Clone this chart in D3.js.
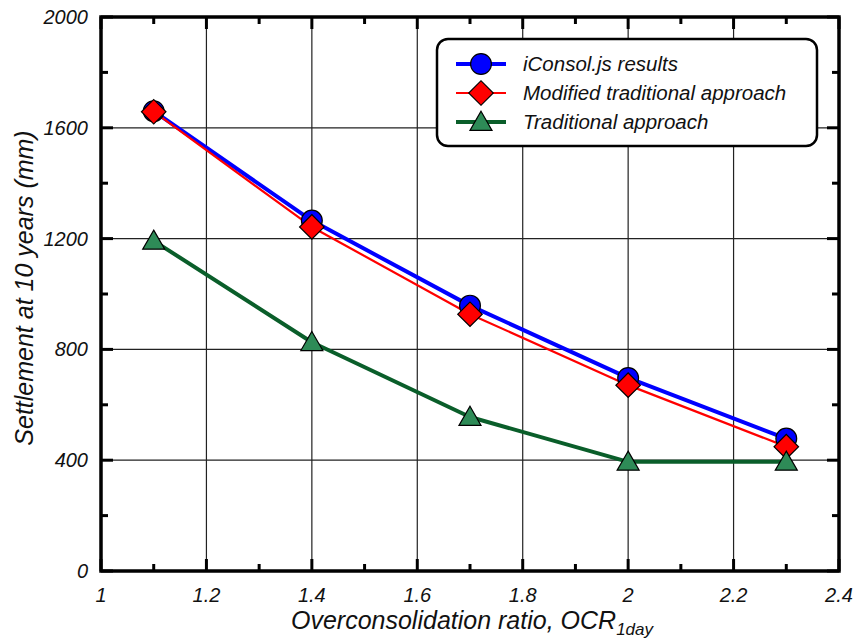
<!DOCTYPE html>
<html lang="en">
  <head>
    <meta charset="utf-8">
    <title>Settlement vs OCR</title>
    <style>
      body { margin: 0; background: #fff; }
      svg text { font-family: "Liberation Sans", Arial, sans-serif; font-style: italic; fill: #111; }
    </style>
  </head>
  <body>
    <svg width="857" height="639"></svg>
    <script src="https://d3js.org/d3.v7.min.js"></script>
    <script>
      // data
      var ocr = [1.1, 1.4, 1.7, 2.0, 2.3];
      var iconsol = [1660, 1265, 958, 697, 478];
      var modified = [1658, 1242, 927, 671, 449];
      var traditional = [1192, 826, 556, 394, 394];
      var xTicks = [1, 1.2, 1.4, 1.6, 1.8, 2, 2.2, 2.4];
      var yTicks = [0, 400, 800, 1200, 1600, 2000];

      var svg = d3.select("svg");
      var pL = 101, pR = 839, pT = 17, pB = 571;

      var x = d3.scaleLinear().domain([1, 2.4]).range([pL, pR]);
      var y = d3.scaleLinear().domain([0, 2000]).range([pB, pT]);

      // grid
      svg.append("g").selectAll("line")
        .data(xTicks.slice(1, -1))
        .enter().append("line")
        .attr("x1", d => x(d)).attr("x2", d => x(d))
        .attr("y1", pT).attr("y2", pB)
        .attr("stroke", "#222").attr("stroke-width", 1.2);
      svg.append("g").selectAll("line")
        .data(yTicks.slice(1, -1))
        .enter().append("line")
        .attr("y1", d => y(d)).attr("y2", d => y(d))
        .attr("x1", pL).attr("x2", pR)
        .attr("stroke", "#222").attr("stroke-width", 1.2);

      // inward ticks on all four sides
      var xMinor = d3.range(1.1, 2.4, 0.2);
      var yMinor = d3.range(200, 2000, 400);
      var tk = svg.append("g").attr("stroke", "#000").attr("stroke-width", 3);
      function xt(vals, len) {
        vals.forEach(function(v) {
          tk.append("line").attr("x1", x(v)).attr("x2", x(v)).attr("y1", pB).attr("y2", pB - len);
          tk.append("line").attr("x1", x(v)).attr("x2", x(v)).attr("y1", pT).attr("y2", pT + len);
        });
      }
      function yt(vals, len) {
        vals.forEach(function(v) {
          tk.append("line").attr("y1", y(v)).attr("y2", y(v)).attr("x1", pL).attr("x2", pL + len);
          tk.append("line").attr("y1", y(v)).attr("y2", y(v)).attr("x1", pR).attr("x2", pR - len);
        });
      }
      xt(xTicks, 12); xt(xMinor, 7);
      yt(yTicks, 12); yt(yMinor, 7);

      svg.append("rect")
        .attr("x", pL).attr("y", pT)
        .attr("width", pR - pL).attr("height", pB - pT)
        .attr("fill", "none").attr("stroke", "#000").attr("stroke-width", 3.5);

      // tick labels
      svg.append("g").selectAll("text")
        .data(xTicks).enter().append("text")
        .attr("x", d => x(d)).attr("y", 602)
        .attr("text-anchor", "middle").attr("font-size", 20)
        .text(d => d3.format("~g")(d));
      svg.append("g").selectAll("text")
        .data(yTicks).enter().append("text")
        .attr("x", 88).attr("y", d => y(d) + 7)
        .attr("text-anchor", "end").attr("font-size", 20)
        .text(d => d);

      // axis titles
      var xt2 = svg.append("text")
        .attr("x", 472).attr("y", 629)
        .attr("text-anchor", "middle").attr("font-size", 25);
      xt2.append("tspan").text("Overconsolidation ratio, OCR");
      xt2.append("tspan").attr("font-size", 17).attr("dy", 6).text("1day");

      svg.append("text")
        .attr("transform", "translate(33,288) rotate(-90)")
        .attr("text-anchor", "middle").attr("font-size", 25)
        .text("Settlement at 10 years (mm)");

      // series
      var line = d3.line().x((d, i) => x(ocr[i])).y(d => y(d));
      var series = [
        { name: "iConsol.js results", vals: iconsol, stroke: "#0000ff", sw: 4, shape: "circle", size: 340, fill: "#0000ff" },
        { name: "Modified traditional approach", vals: modified, stroke: "#ff0000", sw: 2.2, shape: "diamond", size: 300, fill: "#ff0000" },
        { name: "Traditional approach", vals: traditional, stroke: "#0a5e2a", sw: 4, shape: "triangle", size: 210, fill: "#2e8b57" }
      ];
      var types = { circle: d3.symbolCircle, diamond: d3.symbolSquare, triangle: d3.symbolTriangle };
      function place(s, cx, cy) {
        return "translate(" + cx + "," + (cy + (s.shape === "triangle" ? 2 : 0)) + ")" +
          (s.shape === "diamond" ? " rotate(45)" : "");
      }

      series.forEach(function(s) {
        svg.append("path")
          .datum(s.vals)
          .attr("d", line)
          .attr("fill", "none")
          .attr("stroke", s.stroke)
          .attr("stroke-width", s.sw)
          .attr("stroke-linejoin", "round");
      });
      series.forEach(function(s) {
        var sym = d3.symbol().type(types[s.shape]).size(s.size);
        svg.append("g").selectAll("path")
          .data(s.vals).enter().append("path")
          .attr("d", sym)
          .attr("transform", (d, i) => place(s, x(ocr[i]), y(d)))
          .attr("fill", s.fill)
          .attr("stroke", "#000")
          .attr("stroke-width", 1.2);
      });

      // legend
      var lg = svg.append("g").attr("transform", "translate(437,39)");
      lg.append("rect")
        .attr("width", 380).attr("height", 107)
        .attr("rx", 11).attr("ry", 11)
        .attr("fill", "#fff").attr("stroke", "#000").attr("stroke-width", 2.5);
      series.forEach(function(s, i) {
        var yy = 25 + i * 29;
        lg.append("line")
          .attr("x1", 19).attr("x2", 69).attr("y1", yy).attr("y2", yy)
          .attr("stroke", s.stroke).attr("stroke-width", s.sw);
        lg.append("path")
          .attr("d", d3.symbol().type(types[s.shape]).size(s.size))
          .attr("transform", place(s, 44, yy))
          .attr("fill", s.fill).attr("stroke", "#000").attr("stroke-width", 1.2);
        lg.append("text")
          .attr("x", 86).attr("y", yy + 7)
          .attr("font-size", 20.5)
          .text(s.name);
      });
    </script>
  </body>
</html>
